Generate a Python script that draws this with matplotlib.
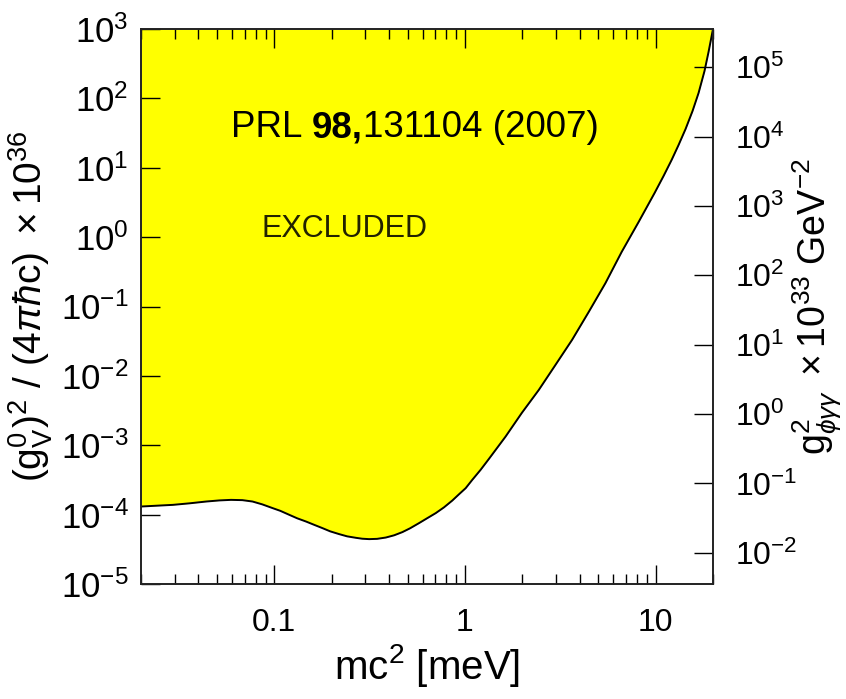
import numpy as np
import matplotlib
matplotlib.use('Agg')
import matplotlib.pyplot as plt
from matplotlib.ticker import LogLocator, FuncFormatter, NullFormatter, NullLocator

# boundary of excluded region
mass_mev = [0.0200, 0.0250, 0.0294, 0.0359, 0.0439, 0.0515, 0.0593, 0.0680, 0.0769, 0.0865,
            0.0980, 0.1075, 0.1199, 0.1319, 0.1466, 0.1619, 0.1791, 0.1965, 0.2190, 0.2411,
            0.2679, 0.2890, 0.3143, 0.3461, 0.3845, 0.4249, 0.4695, 0.5152, 0.5744, 0.6324,
            0.7027, 0.7762, 0.858, 0.930, 1.009, 1.092, 1.208, 1.336, 1.633, 1.988,
            2.440, 2.960, 3.646, 4.459, 5.453, 6.637, 8.147, 9.88, 11.01, 12.13,
            13.20, 14.36, 15.62, 16.80, 18.05, 18.95, 20.0]
log_limit = [-3.883, -3.869, -3.859, -3.837, -3.811, -3.795, -3.787, -3.791, -3.811, -3.852,
             -3.906, -3.945, -4.003, -4.053, -4.099, -4.147, -4.195, -4.241, -4.281, -4.313,
             -4.334, -4.347, -4.353, -4.349, -4.330, -4.298, -4.252, -4.197, -4.122, -4.053,
             -3.978, -3.895, -3.797, -3.707, -3.618, -3.499, -3.354, -3.196, -2.875, -2.533,
             -2.202, -1.856, -1.481, -1.078, -0.664, -0.213, 0.219, 0.637, 0.882, 1.112,
             1.329, 1.559, 1.818, 2.078, 2.395, 2.669, 3.000]
limit = [10 ** v for v in log_limit]

x_range = (0.02, 20)
y_range = (1e-5, 1e3)
right_shift = 10 ** 2.55   # right axis = left axis * this

plt.rcParams['font.family'] = ['Liberation Sans', 'DejaVu Sans']
plt.rcParams['mathtext.fontset'] = 'custom'
plt.rcParams['mathtext.rm'] = 'Liberation Sans'
plt.rcParams['mathtext.it'] = 'Liberation Sans:italic'
plt.rcParams['mathtext.bf'] = 'Liberation Sans:bold'
plt.rcParams['axes.unicode_minus'] = False

fig = plt.figure(figsize=(8.46, 6.99), dpi=100)
ax = fig.add_axes([0.1667, 0.1645, 0.6761, 0.794])

ax.fill_between(mass_mev, limit, y_range[1], color='#ffff00', lw=0)
ax.plot(mass_mev, limit, color='black', lw=1.4)

ax.set_xscale('log')
ax.set_yscale('log')
ax.set_xlim(*x_range)
ax.set_ylim(*y_range)

ax.xaxis.set_major_locator(LogLocator(base=10))
ax.xaxis.set_minor_locator(LogLocator(base=10, subs=np.arange(2, 10)))
ax.xaxis.set_major_formatter(FuncFormatter(lambda v, p: '%g' % v))
ax.xaxis.set_minor_formatter(NullFormatter())
ax.yaxis.set_major_locator(LogLocator(base=10, numticks=20))
ax.yaxis.set_minor_locator(NullLocator())

ax.tick_params(axis='x', which='major', direction='in', length=13.5, width=1,
               top=True, labelsize=23, pad=17)
ax.tick_params(axis='x', which='minor', direction='in', length=7, width=1, top=True)
ax.tick_params(axis='y', which='major', direction='in', length=13.5, width=1,
               right=False, labelsize=25, pad=9)
for s in ax.spines.values():
    s.set_linewidth(1.2)
    s.set_color('#222222')

ax.set_xlabel(r'mc$^2$ [meV]', fontsize=29)
ax.xaxis.set_label_coords(0.5, -0.104)
ax.set_ylabel(r'$(\mathrm{g}_\mathrm{V}^0)^2\ /\ (4\pi\hbar\mathrm{c})\ \times10^{36}$', fontsize=28)
ax.yaxis.set_label_coords(-0.15, 0.5)

ax2 = ax.twinx()
ax2.set_yscale('log')
ax2.set_ylim(y_range[0] * right_shift, y_range[1] * right_shift)
ax2.yaxis.set_major_locator(LogLocator(base=10, numticks=20))
ax2.yaxis.set_minor_locator(NullLocator())
ax2.tick_params(axis='y', which='major', direction='in', length=13.5, width=1,
                labelsize=23, pad=16)
ax2.set_ylabel(r'$\mathrm{g}^2_{\phi\gamma\gamma}\ \times10^{33}\ \mathrm{GeV}^{-2}$', fontsize=27)
ax2.yaxis.set_label_coords(1.136, 0.5)
for s in ax2.spines.values():
    s.set_linewidth(1.2)
    s.set_color('#222222')

# citation, bold volume number
t1 = ax.text(0.158, 0.822, 'PRL ', transform=ax.transAxes, ha='left', va='center', fontsize=26.5)
t2 = ax.annotate('98,', xy=(1, 0), xycoords=t1, ha='left', va='bottom',
                 fontsize=26.5, fontweight='bold')
ax.annotate('131104 (2007)', xy=(1, 0), xycoords=t2, ha='left', va='bottom', fontsize=26.5)

ax.text(0.355, 0.64, 'EXCLUDED', transform=ax.transAxes, ha='center', va='center',
        fontsize=22, color='#222200')

fig.savefig('out.png', dpi=100)
